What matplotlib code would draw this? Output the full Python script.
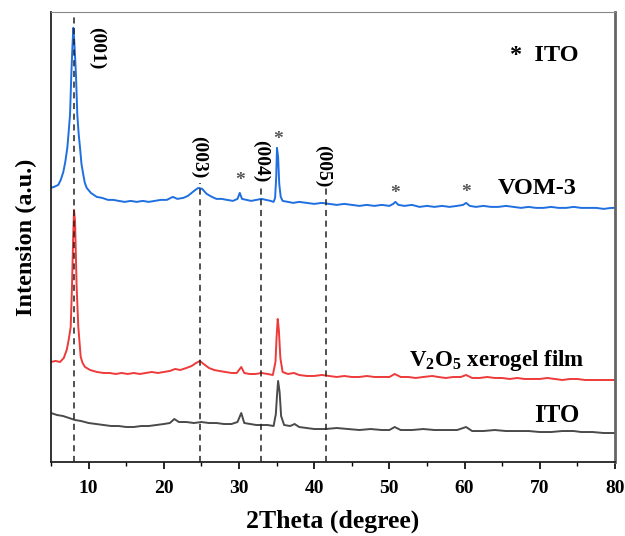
import matplotlib
matplotlib.use('Agg')
import matplotlib.pyplot as plt
from matplotlib.ticker import MultipleLocator

plt.rcParams['font.family'] = ['Liberation Serif', 'DejaVu Serif']
plt.rcParams['font.weight'] = 'bold'
plt.rcParams['mathtext.fontset'] = 'custom'
plt.rcParams['mathtext.rm'] = 'Liberation Serif:bold'
plt.rcParams['mathtext.bf'] = 'Liberation Serif:bold'

# VOM-3 (offset intensity, a.u.)
vom_x = [5.0, 5.4, 5.7, 5.97, 6.3, 6.64, 6.9, 7.17, 7.35, 7.53, 7.7, 7.85, 7.97, 8.1, 8.32,
         8.5, 8.68, 8.86, 9.05, 9.3, 9.5, 9.75, 10.3, 11.08, 11.8, 12.58, 13.3, 14.0, 14.8,
         15.6, 16.4, 17.2, 18.0, 18.8, 19.6, 20.4, 21.2, 21.8, 22.6, 23.2, 23.7, 24.2, 24.6,
         25.1, 25.7, 26.4, 27.0, 27.7, 28.4, 29.2, 29.8, 30.1, 30.4, 31.0, 31.6, 32.3, 33.0,
         33.6, 34.2, 34.6, 34.8, 34.95, 35.05, 35.2, 35.35, 35.55, 35.8, 36.5, 37.2, 38.0,
         39.0, 40.0, 41.0, 42.0, 43.0, 44.0, 45.0, 46.0, 47.0, 48.0, 49.0, 50.0, 50.5, 50.8,
         51.2, 52.0, 53.0, 54.0, 55.0, 56.0, 57.0, 58.0, 59.0, 59.8, 60.2, 60.7, 61.5, 62.5,
         63.5, 64.5, 65.5, 66.5, 67.5, 68.5, 69.5, 70.5, 71.5, 72.5, 73.5, 74.5, 75.5, 76.5,
         77.5, 78.5, 79.5, 80.0]
vom_y = [274, 275, 276, 277, 282, 290, 300, 314, 330, 347, 387, 415, 434, 420, 387,
         347, 328, 314, 298, 287, 279, 274, 269, 265, 264, 262, 262, 261, 260,
         261, 260, 261, 260, 261, 262, 262, 265, 263, 264, 266, 269, 272, 274,
         273, 268, 265, 263, 263, 262, 261, 263, 269, 263, 262, 261, 262, 263,
         262, 261, 260, 264, 285, 314, 305, 278, 265, 261, 260, 259, 260,
         259, 258, 259, 258, 257, 258, 257, 256, 257, 256, 257, 256, 258, 260,
         257, 256, 257, 255, 256, 255, 256, 255, 256, 257, 259, 256, 255, 256,
         255, 255, 256, 255, 254, 255, 254, 254, 255, 254, 254, 255, 254, 254,
         254, 253, 254, 254]

# V2O5 xerogel film
v2o5_x = [5.0, 5.6, 6.2, 6.7, 7.09, 7.35, 7.62, 7.79, 7.95, 8.06, 8.2, 8.41, 8.63, 8.95,
          9.2, 9.52, 10.2, 11.1, 12.0, 12.8, 13.6, 14.4, 15.2, 16.0, 16.8, 17.6, 18.4,
          19.2, 20.0, 20.8, 21.5, 22.2, 23.0, 23.7, 24.3, 24.8, 25.3, 26.0, 26.7, 27.4,
          28.2, 29.0, 29.7, 30.3, 30.7, 31.4, 32.2, 33.0, 33.8, 34.5, 34.85, 35.0, 35.15,
          35.3, 35.5, 35.8, 36.5, 37.3, 38.0, 39.0, 40.0, 41.0, 42.0, 43.0, 44.0, 45.0,
          46.0, 47.0, 48.0, 49.0, 50.0, 50.7, 51.5, 52.5, 53.5, 54.5, 55.7, 56.5, 57.5,
          58.5, 59.5, 60.2, 61.0, 62.0, 63.0, 64.0, 65.0, 66.0, 67.0, 68.0, 69.0, 70.0,
          71.0, 72.0, 73.0, 74.0, 75.0, 76.0, 77.0, 78.0, 79.0, 80.0]
v2o5_y = [100, 101, 100, 104, 112, 122, 135, 175, 225, 252, 240, 175, 135, 105,
          99, 95, 92, 90, 89, 89, 88, 89, 88, 89, 88, 89, 90,
          89, 90, 91, 93, 92, 94, 96, 99, 101, 98, 94, 92, 91,
          90, 89, 89, 95, 89, 88, 88, 89, 88, 87, 100, 125, 143,
          132, 104, 90, 88, 89, 87, 86, 86, 87, 86, 85, 86, 85,
          85, 86, 85, 85, 85, 88, 85, 85, 84, 85, 86, 85, 84,
          85, 85, 87, 84, 84, 85, 84, 84, 83, 84, 83, 83, 83,
          84, 83, 82, 83, 83, 82, 82, 82, 82, 82]

# ITO substrate
ito_x = [5.0, 5.8, 6.6, 7.4, 8.2, 9.0, 10.0, 11.0, 12.0, 13.0, 14.0, 15.0, 16.0, 17.0,
         18.0, 19.0, 20.0, 20.8, 21.4, 22.0, 23.0, 24.0, 25.0, 26.0, 27.0, 28.0, 29.0,
         29.8, 30.3, 30.7, 31.5, 32.3, 33.0, 33.8, 34.6, 34.9, 35.05, 35.2, 35.4, 35.6,
         36.0, 36.8, 37.4, 38.0, 39.0, 40.0, 41.5, 43.0, 44.5, 46.0, 47.5, 49.0, 50.0,
         50.7, 51.5, 53.0, 54.5, 56.0, 57.5, 59.0, 60.2, 61.0, 62.5, 64.0, 65.5, 67.0,
         68.5, 70.0, 71.5, 73.0, 74.5, 75.5, 77.0, 78.5, 80.0]
ito_y = [49, 47, 46, 44, 42, 41, 39, 38, 37, 36, 36, 35, 35, 36,
         36, 37, 38, 39, 43, 40, 40, 39, 40, 39, 39, 38, 38,
         40, 49, 39, 38, 37, 37, 37, 36, 48, 66, 81, 70, 46,
         37, 36, 38, 35, 34, 33, 33, 34, 33, 32, 33, 32, 32,
         35, 32, 32, 33, 32, 32, 32, 35, 31, 31, 32, 31, 31,
         31, 30, 30, 31, 31, 30, 30, 29, 29]

# dashed reference lines: (2theta, top of line), hkl labels
ref_pos = [8.0, 24.8, 32.9, 41.6]
ref_top = [450, 279, 277, 276]
hkl_labels = ['(001)', '(003)', '(004)', '(005)']
hkl_x = [11.1, 24.7, 32.9, 41.2]
hkl_y = [414, 305, 301, 296]

# ITO peak markers
star_x = [30.2, 35.2, 50.8, 60.2]
star_y = [281, 322, 268, 269]

fig = plt.figure(figsize=(6.25, 5.36), dpi=100)
ax = fig.add_axes([0.0816, 0.138, 0.9024, 0.840])

ax.plot(ito_x, ito_y, color='#4a4a4a', lw=1.4)
ax.plot(v2o5_x, v2o5_y, color='#ee3a3a', lw=1.4)
ax.plot(vom_x, vom_y, color='#1f6fe0', lw=1.4)

for p, t in zip(ref_pos, ref_top):
    ax.plot([p, p], [0, t], color='#222222', lw=1.1, ls=(0, (4, 3)))

for lx, ly, s in zip(hkl_x, hkl_y, hkl_labels):
    ax.text(lx, ly, s, rotation=-90, ha='center', va='center', fontsize=14,
            fontweight='bold')

for sx, sy in zip(star_x, star_y):
    ax.text(sx, sy, '*', ha='center', va='center', fontsize=14, color='#555555')

ax.text(66.0, 406, '*  ITO', ha='left', va='center', fontsize=17.5, fontweight='bold')
ax.text(69.6, 273, 'VOM-3', ha='center', va='center', fontsize=17.5, fontweight='bold')
ax.text(64.3, 101, r'V$_\mathbf{2}$O$_\mathbf{5}$ xerogel film', ha='center', va='center',
        fontsize=16.5, fontweight='bold')
ax.text(72.3, 47, 'ITO', ha='center', va='center', fontsize=18, fontweight='bold')

ax.set_xlim(5, 80)
ax.set_ylim(0, 450)
ax.xaxis.set_major_locator(MultipleLocator(10))
ax.xaxis.set_minor_locator(MultipleLocator(5))
ax.tick_params(axis='x', which='major', direction='out', length=5, width=1.2,
               labelsize=14, top=False, pad=8)
ax.tick_params(axis='x', which='minor', direction='out', length=3, width=1.0, top=False)
ax.set_yticks([])
for lab in ax.get_xticklabels():
    lab.set_fontweight('bold')

ax.spines['left'].set_color('#222222')
ax.spines['bottom'].set_color('#222222')
ax.spines['left'].set_linewidth(1.3)
ax.spines['bottom'].set_linewidth(1.3)
ax.spines['top'].set_color('#888888')
ax.spines['top'].set_linewidth(0.8)
ax.spines['right'].set_color('#666666')
ax.spines['right'].set_linewidth(2.0)

ax.set_xlabel('2Theta (degree)', fontsize=18.5, fontweight='bold', labelpad=9)
ax.set_ylabel('Intension (a.u.)', fontsize=17.5, fontweight='bold', labelpad=10)

fig.savefig('out.png', dpi=100)
